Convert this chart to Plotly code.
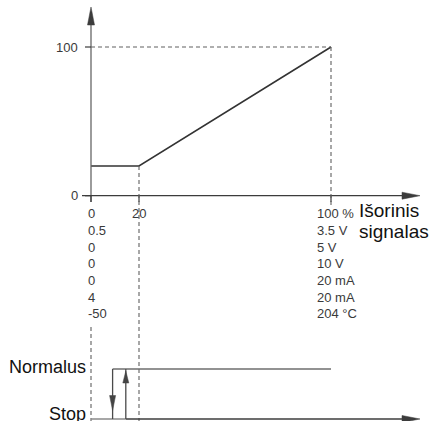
import plotly.graph_objects as go

# chart data
signal_pct = [0, 20, 100]          # external signal, %
setpoint_pct = [20, 20, 100]       # resulting setpoint, %
y_ticks = [0, 100]
x_ticks = [0, 20, 100]
scale_min = ["0", "0.5", "0", "0", "0", "4", "-50"]
scale_max = ["100 %", "3.5 V", "5 V", "10 V", "20 mA", "20 mA", "204 °C"]
stop_below = 9       # % signal where pump goes to Stop
start_above = 14.5   # % signal where pump returns to Normalus
states = ["Stop", "Normalus"]

W, H = 430, 421
# pixel frame of the drawing
X0_PX, X100_PX = 91, 331
Y0_PX, Y100_PX = 195.7, 47
kx = (X100_PX - X0_PX) / 100
ky = (Y0_PX - Y100_PX) / 100


def dx(px):
    return (px - X0_PX) / kx


def dy(py):
    return (Y0_PX - py) / ky


AXIS = "#3c3c3c"
LINE = "#333333"
DASH = "#606060"
SIG = "#6e6e6e"
FONT = "Liberation Sans, Arial, sans-serif"

state_y = {"Normalus": dy(369), "Stop": dy(419)}

fig = go.Figure()

# main curve
fig.add_trace(go.Scatter(x=signal_pct, y=setpoint_pct, mode="lines",
                         line=dict(color=LINE, width=1.6), hoverinfo="skip"))

shapes = []


def seg(x0, y0, x1, y1, color, width=1.3, dash=None):
    shapes.append(dict(type="line", xref="x", yref="y", x0=x0, y0=y0, x1=x1, y1=y1,
                       line=dict(color=color, width=width, dash=dash or "solid")))


def head(tip_px, direction, length=18, half=3.5, color=AXIS):
    tx, ty = tip_px
    if direction == "up":
        pts = [(tx, ty), (tx - half, ty + length), (tx + half, ty + length)]
    elif direction == "down":
        pts = [(tx, ty), (tx - half, ty - length), (tx + half, ty - length)]
    else:  # right
        pts = [(tx, ty), (tx - length, ty - half), (tx - length, ty + half)]
    path = "M " + " L ".join(f"{dx(a)},{dy(b)}" for a, b in pts) + " Z"
    shapes.append(dict(type="path", xref="x", yref="y", path=path,
                       fillcolor=color, line=dict(color=color, width=0.5)))


# axes
seg(0, dy(202), 0, dy(12), "#666666", 1.3)
head((X0_PX, 7), "up")
seg(dx(82), 0, dx(405), 0, AXIS, 1.3)
head((420, Y0_PX), "right")
for v in y_ticks:
    seg(dx(85), v, 0, v, AXIS, 1.2)
for v in x_ticks:
    seg(v, 0, v, dy(202), AXIS, 1.2)

# dashed guides
top = max(setpoint_pct)
seg(0, top, signal_pct[-1], top, DASH, 1.1, "4px,3px")
seg(signal_pct[-1], top, signal_pct[-1], dy(207), DASH, 1.1, "4px,3px")
seg(signal_pct[1], setpoint_pct[1], signal_pct[1], dy(H), DASH, 1.1, "4px,3px")
seg(0, dy(327), 0, dy(H), DASH, 1.1, "4px,3px")

# bottom state diagram
seg(start_above, state_y["Stop"], dx(405), state_y["Stop"], AXIS, 1.4)
head((420, 419), "right")
seg(0, state_y["Stop"], start_above, state_y["Stop"], "#8a8a8a", 1.6)
seg(stop_below, state_y["Normalus"], signal_pct[-1], state_y["Normalus"], SIG, 1.5)
seg(stop_below, state_y["Normalus"], stop_below, state_y["Stop"], "#4a4a4a", 1.3)
seg(start_above, state_y["Stop"], start_above, state_y["Normalus"], "#4a4a4a", 1.3)
head((X0_PX + stop_below * kx, 410.5), "down", 15, 3, "#444444")
head((X0_PX + start_above * kx, 371), "up", 12, 3, "#444444")

ann = []
for v in y_ticks:
    ann.append(dict(x=dx(80), y=v, text=str(v), xanchor="right", yanchor="middle",
                    font=dict(size=13, color="#3a3a3a")))
row0, step = 213.7, 16.7
for i, (a, b) in enumerate(zip(scale_min, scale_max)):
    yy = dy(row0 + i * step)
    ann.append(dict(x=dx(86), y=yy, text=a, xanchor="left", yanchor="middle",
                    font=dict(size=13, color="#3a3a3a")))
    ann.append(dict(x=dx(315), y=yy, text=b, xanchor="left", yanchor="middle",
                    font=dict(size=13, color="#3a3a3a")))
ann.append(dict(x=signal_pct[1], y=dy(row0), text=str(signal_pct[1]), xanchor="center",
                yanchor="middle", font=dict(size=13, color="#3a3a3a")))
ann.append(dict(x=dx(357), y=dy(210), text="Išorinis", xanchor="left", yanchor="middle",
                font=dict(size=19, color="#111111")))
ann.append(dict(x=dx(357), y=dy(231.5), text="signalas", xanchor="left", yanchor="middle",
                font=dict(size=19, color="#111111")))
for s, yc in zip(states, [413.5, 367]):
    ann.append(dict(x=dx(88), y=dy(yc), text=s, xanchor="right", yanchor="middle",
                    font=dict(size=18, color="#111111")))
ann.append(dict(x=dx(293), y=dy(2.5), text="<b>Nustatyta [%]</b>", xanchor="right",
                yanchor="bottom", font=dict(size=15, color="#111111")))
for a in ann:
    a.update(xref="x", yref="y", showarrow=False)

fig.update_layout(
    width=W, height=H,
    margin=dict(l=0, r=0, t=0, b=0),
    paper_bgcolor="white", plot_bgcolor="white",
    showlegend=False,
    font=dict(family=FONT),
    xaxis=dict(range=[dx(0), dx(W)], visible=False, fixedrange=True),
    yaxis=dict(range=[dy(H), dy(0)], visible=False, fixedrange=True),
    shapes=shapes, annotations=ann,
)

# page body has a default 8px margin; drop it so the figure fills the window
fig.write_html("out.html", config={"displayModeBar": False},
               post_script="document.body.style.margin='0';document.body.style.overflow='hidden';")
